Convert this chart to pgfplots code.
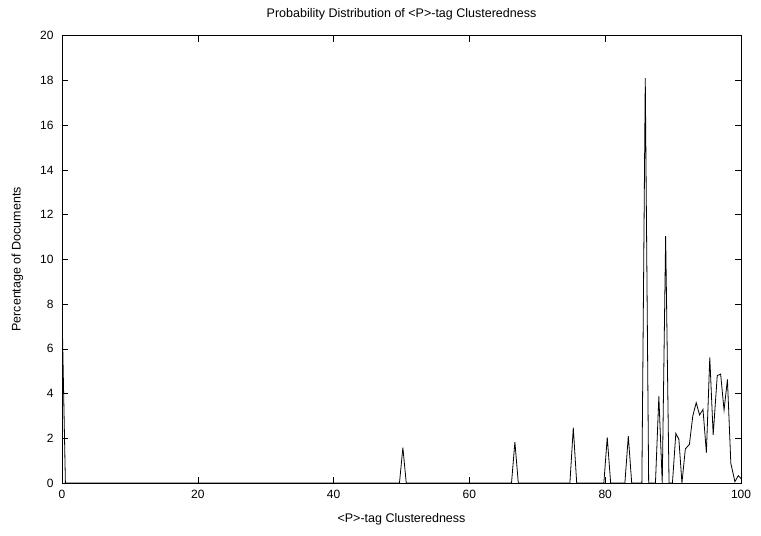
\documentclass[border=0pt]{standalone}
\usepackage{pgfplots}
\pgfplotsset{compat=1.18}
\usepackage{fontspec}
\setmainfont{Liberation Sans}
\newcommand\f{\fontsize{12.5bp}{14bp}\selectfont}
\newcommand\ft{\fontsize{12bp}{14bp}\selectfont}
\begin{document}
\begin{tikzpicture}[x=1bp,y=1bp]
\useasboundingbox (0,0) rectangle (761,536);
\begin{axis}[
  at={(62bp,53bp)}, anchor=south west,
  scale only axis, width=679bp, height=447.3bp,
  xmin=0, xmax=100, ymin=0, ymax=20,
  xtick={0,20,...,100}, ytick={0,2,...,20},
  /pgf/number format/assume math mode=true,
  tick label style={font=\ft},
  yticklabel style={xshift=-5bp},
  xticklabel style={yshift=-4bp},
  major tick length=6bp,
  tick style={black, line width=0.6bp},
  axis line style={black, line width=0.8bp},
  title={Probability Distribution of <P>-tag Clusteredness},
  title style={font=\f, at={(0.5,1)}, anchor=south, yshift=6bp},
  xlabel={<P>-tag Clusteredness},
  ylabel={Percentage of Documents},
  label style={font=\f},
  xlabel style={yshift=-8bp},
  ylabel style={yshift=10bp},
  clip=true,
]
\addplot[black, line width=0.8bp, mark=none] coordinates {
(0,7.8) (0.5,0) (49.7,0) (50.2,1.58) (50.7,0)
(66.2,0) (66.7,1.83) (67.2,0)
(74.8,0) (75.3,2.47) (75.8,0)
(79.8,0) (80.3,2.04) (80.8,0)
(82.9,0) (83.4,2.1) (83.9,0)
(85.4,0) (85.9,18.1) (86.4,0)
(87.4,0) (87.9,3.87) (88.4,0) (88.9,11.04) (89.4,0) (89.9,0)
(90.4,2.22) (90.85,1.95) (91.3,0) (91.8,1.52) (92.4,1.73) (92.9,3.0)
(93.4,3.59) (93.9,3.04) (94.4,3.29) (94.9,1.36) (95.4,5.62) (95.9,2.15)
(96.5,4.80) (97.0,4.87) (97.5,3.26) (98.0,4.63) (98.5,0.88) (99.1,0.06)
(99.6,0.33) (100,0.2)
};
\end{axis}
\end{tikzpicture}
\end{document}
